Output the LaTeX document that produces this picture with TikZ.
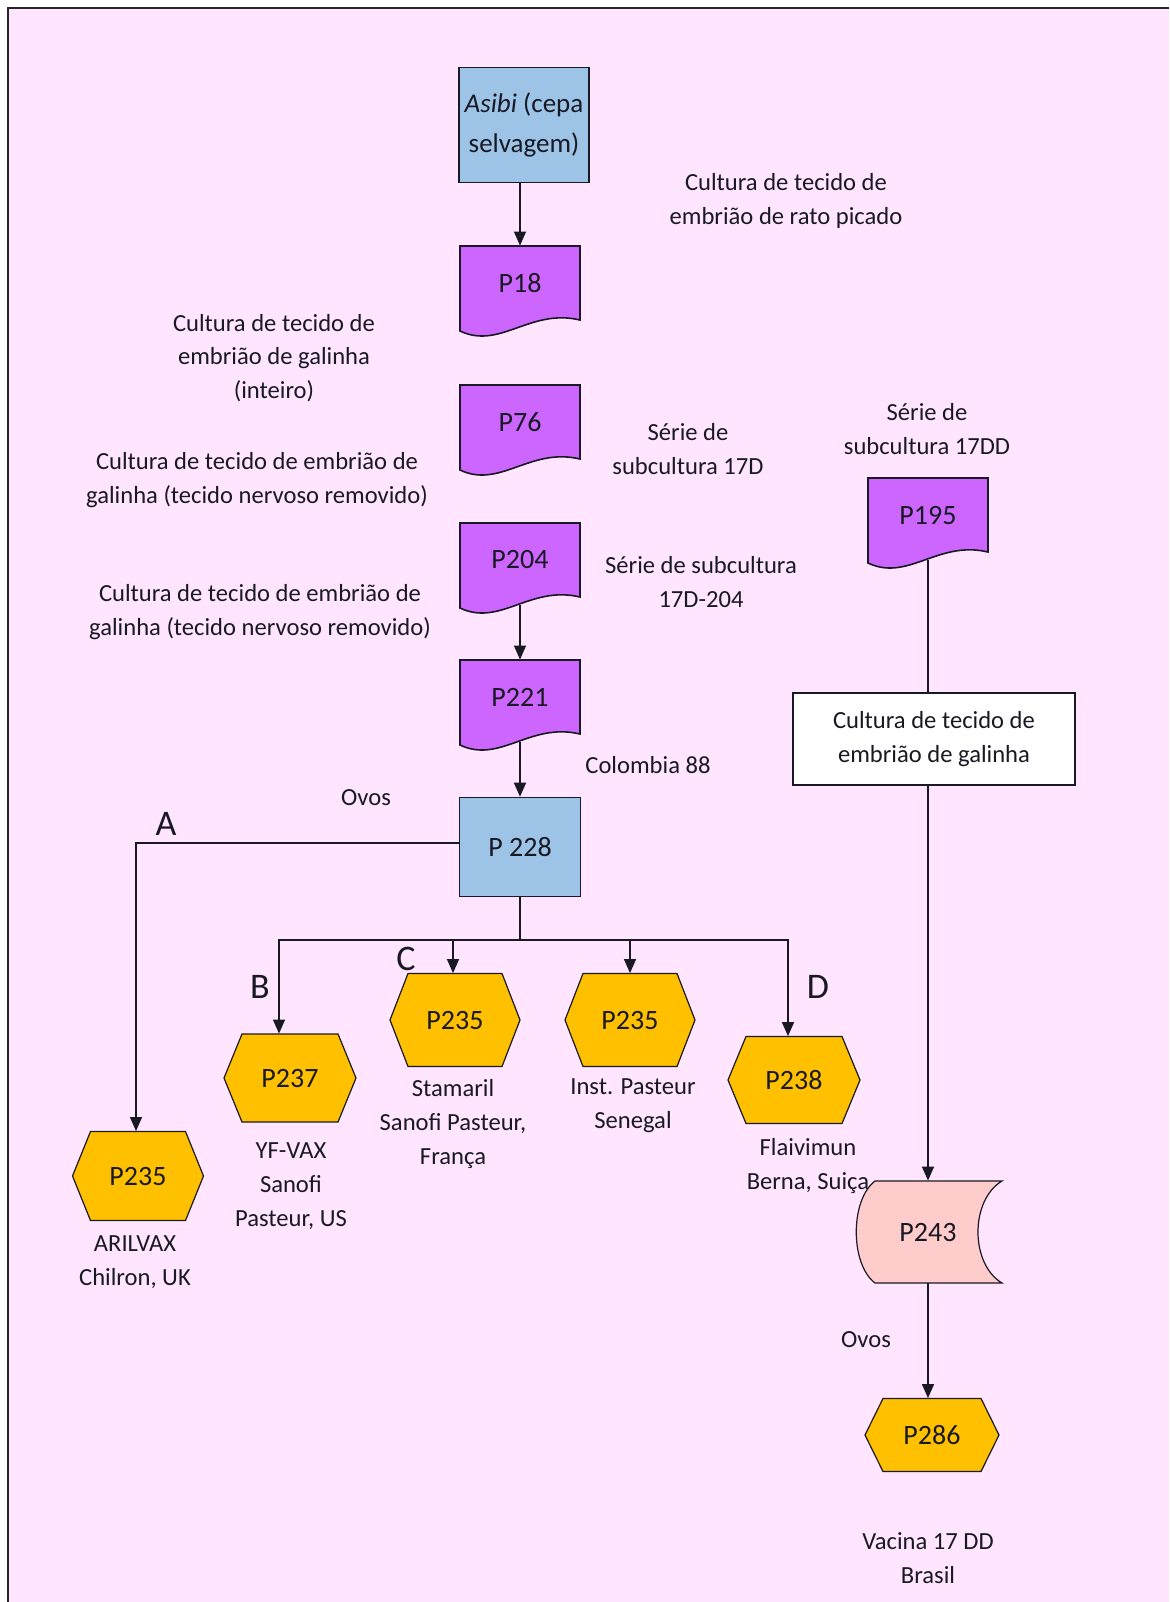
\documentclass[tikz,border=0pt]{standalone}
\usepackage{fontspec}
\setmainfont{Carlito}
\usetikzlibrary{arrows.meta,calc}

\definecolor{bgpink}{RGB}{255,229,255}
\definecolor{boxblue}{RGB}{157,195,230}
\definecolor{docpurple}{RGB}{204,102,255}
\definecolor{hexgold}{RGB}{255,192,0}
\definecolor{storepink}{RGB}{255,204,204}
\definecolor{ink}{RGB}{25,25,35}

% name, centre x, top y, text
\newcommand{\docnode}[4]{%
  \filldraw[docfill] (#2-60,#3) -- (#2+60,#3) -- (#2+60,#3+74)
    .. controls (#2+10,#3+62) and (#2-20,#3+104) .. (#2-60,#3+85) -- cycle;
  \node[pname, minimum width=60pt, minimum height=37pt] (#1) at (#2,#3+37) {#4};
  \coordinate (#1b) at (#2,#3+82);
}
% name, centre x, centre y, width, height, text
\newcommand{\hexnode}[6]{%
  \filldraw[hexfill] (#2-#4/2,#3) -- (#2-#4/2+18,#3-#5/2) -- (#2+#4/2-18,#3-#5/2)
    -- (#2+#4/2,#3) -- (#2+#4/2-18,#3+#5/2) -- (#2-#4/2+18,#3+#5/2) -- cycle;
  \node[pname, minimum width=#4*0.5pt, minimum height=#5*0.5pt] (#1) at (#2,#3) {#6};
}

\begin{document}
\begin{tikzpicture}[x=0.5pt,y=-0.5pt,
  txt/.style={font=\fontsize{12.3}{16.8}\selectfont, align=center, text=ink, inner sep=0pt},
  vac/.style={font=\fontsize{12.3}{17}\selectfont, align=center, text=ink, inner sep=0pt},
  pname/.style={font=\fontsize{14}{20}\selectfont, align=center, text=ink, inner sep=0pt},
  letter/.style={font=\fontsize{18}{20}\selectfont, text=ink, inner sep=0pt},
  proc/.style={draw=ink, fill=boxblue, line width=0.8pt},
  docfill/.style={draw=ink, fill=docpurple, line width=0.8pt},
  hexfill/.style={draw=ink, fill=hexgold, line width=0.6pt},
  storefill/.style={draw=ink, fill=storepink, line width=0.6pt},
  plainbox/.style={draw=ink, fill=white, line width=0.6pt},
  flow/.style={line width=0.7pt, draw=ink, -{Triangle[length=7pt,width=6pt]}},
  link/.style={line width=0.7pt, draw=ink},
]
\useasboundingbox (0,0) rectangle (1169,1602);
\fill[white] (0,0) rectangle (1169,1602);
\fill[bgpink] (8,8) rectangle (1169,1602);
\draw[line width=1.2pt, black!85] (8,1602) -- (8,8) -- (1169,8);

% left column
\node[proc, pname, font=\fontsize{13.5}{20}\selectfont, minimum width=65pt, minimum height=57.5pt] (asibi) at (524,125)
  {\textit{Asibi} (cepa\\selvagem)};
\docnode{p18}{520}{246}{P18}
\docnode{p76}{520}{385}{P76}
\docnode{p204}{520}{523}{P204}
\docnode{p221}{520}{660}{P221}
\node[proc, pname, minimum width=60.5pt, minimum height=49.5pt] (p228) at (520,847) {P 228};

\draw[flow] (p18.north |- asibi.south) -- (p18.north);
\draw[flow] (p204b) -- (p221.north);
\draw[flow] (p221b) -- (p228.north);

% vaccines from P228
\hexnode{arilvax}{138}{1176}{131}{89}{P235}
\hexnode{yfvax}{290}{1078}{132}{88}{P237}
\hexnode{stamaril}{455}{1020}{130}{93}{P235}
\hexnode{senegal}{630}{1020}{130}{93}{P235}
\hexnode{flaivimun}{794}{1080}{132}{87}{P238}

\coordinate (bar) at (520,940);
\draw[flow] ($(p228.west)+(0,-4)$) -| ($(arilvax.north)+(-2,0)$);
\draw[link] (p228.south) -- (bar);
\draw[flow] (bar) -| ($(yfvax.north)+(-11,0)$);
\draw[flow] (bar) -| ($(stamaril.north)+(-2,0)$);
\draw[flow] (bar) -| (senegal.north);
\draw[flow] (bar) -| ($(flaivimun.north)+(-6,0)$);

% right column
\docnode{p195}{928}{478}{P195}
\node[plainbox, txt, minimum width=141pt, minimum height=46pt] (cult) at (934,739)
  {Cultura de tecido de\\embrião de galinha};
\filldraw[storefill] (875,1181) -- (1002,1181) .. controls (970,1200) and (970,1264) .. (1002,1283)
  -- (875,1283) .. controls (850,1264) and (850,1200) .. (875,1181) -- cycle;
\node[pname, minimum width=60pt, minimum height=51pt] (p243) at (928,1232) {P243};
\hexnode{p286}{932}{1435}{134}{73}{P286}

\draw[link] (p195b) -- (p195b |- cult.north);
\draw[flow] (p195b |- cult.south) -- (p243.north);
\draw[flow] (p243.south) -- (p243.south |- p286.north);

% texts
\node[txt] (t1) at (786,201) {Cultura de tecido de\\embrião de rato picado};
\node[txt] (t2) at (274,358) {Cultura de tecido de\\embrião de galinha\\(inteiro)};
\node[txt] (t3) at (688,449) {Série de\\subcultura 17D};
\node[txt] (t4) at (257,480) {Cultura de tecido de embrião de\\galinha (tecido nervoso removido)};
\node[txt] (t5) at (927,429) {Série de\\subcultura 17DD};
\node[txt] (t6) at (701,582) {Série de subcultura\\17D-204};
\node[txt] (t7) at (260,612) {Cultura de tecido de embrião de\\galinha (tecido nervoso removido)};
\node[txt] (t8) at (648,765) {Colombia 88};
\node[txt] (t9) at (366,798) {Ovos};
\node[letter] (la) at (166,824) {A};
\node[letter] (lb) at (260,987) {B};
\node[letter] (lc) at (406,959) {C};
\node[letter] (ld) at (818,987) {D};
\node[vac] (v1) at (135,1262) {ARILVAX\\Chilron, UK};
\node[vac] (v2) at (291,1186) {YF-VAX\\Sanofi\\Pasteur, US};
\node[vac] (v3) at (453,1124) {Stamaril\\Sanofi Pasteur,\\França};
\node[vac] (v4) at (633,1106) {Inst. Pasteur\\Senegal};
\node[vac] (v5) at (808,1166) {Flaivimun\\Berna, Suiça};
\node[txt] (t10) at (866,1340) {Ovos};
\node[vac] (v6) at (928,1558) {Vacina 17 DD\\Brasil};
\end{tikzpicture}
\end{document}
